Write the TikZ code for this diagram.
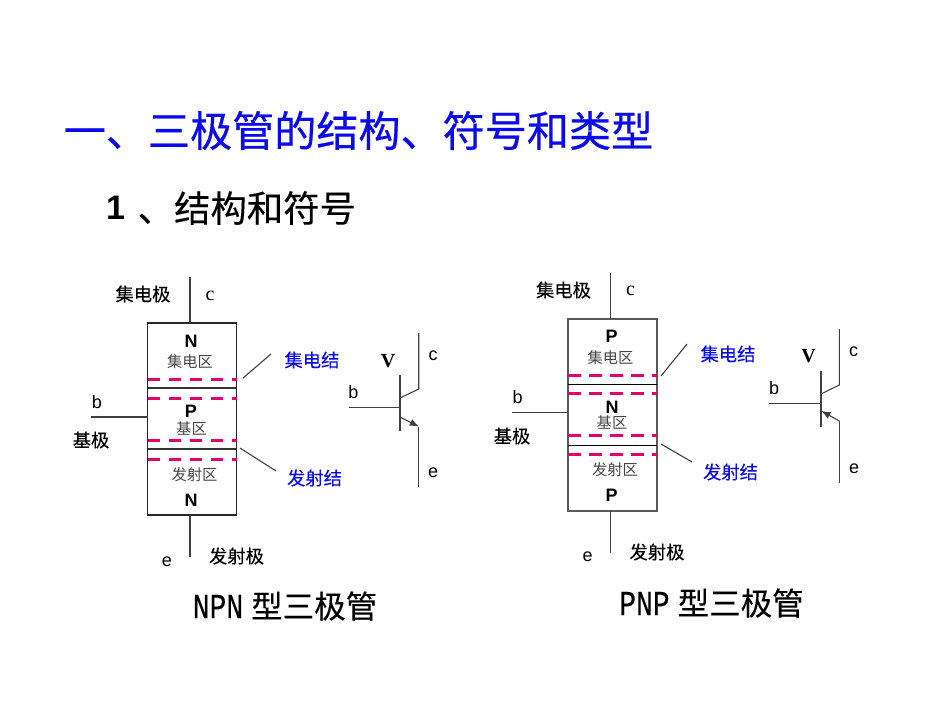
\documentclass[tikz,border=0pt]{standalone}
\usepackage{fontspec}
\setmainfont{Liberation Sans}
\newfontfamily\cjk{Noto Sans CJK SC}
\newfontfamily\cjkh[FakeBold=0.5]{Noto Sans CJK SC}
\newfontfamily\cjkm[FakeBold=0.25]{Noto Sans CJK SC}
\newfontfamily\tms{Liberation Serif}
\newfontfamily\narrowmono[FakeStretch=0.8,FakeBold=0.3]{Liberation Mono}
\usetikzlibrary{arrows.meta}
\definecolor{junc}{RGB}{228,0,110}
\definecolor{tblue}{RGB}{10,10,235}
\definecolor{lgrey}{RGB}{70,70,70}
\tikzset{
  lead/.style={draw=black!75,line width=1.1pt},
  boxlook/.style={draw=black!85,line width=1.1pt,minimum width=89pt,minimum height=192pt,inner sep=0pt,outer sep=0pt},
  junction/.style={draw=junc,line width=3pt,dash pattern=on 12.5pt off 8.5pt},
  inner/.style={draw=black!80,line width=1.1pt},
  lab/.style={inner sep=0pt,outer sep=0pt,font=\fontsize{18.3}{20}\cjkm,text=black},
  bluelab/.style={lab,text=tblue},
  region/.style={inner sep=0pt,outer sep=0pt,font=\fontsize{15.3}{18}\cjk,text=lgrey},
  typeL/.style={inner sep=0pt,outer sep=0pt,font=\fontsize{18}{20}\selectfont\bfseries},
  pin/.style={inner sep=0pt,outer sep=0pt,font=\fontsize{18}{20}\selectfont},
  vlab/.style={inner sep=0pt,outer sep=0pt,font=\fontsize{20}{22}\tms\bfseries},
  clab/.style={inner sep=0pt,outer sep=0pt,font=\fontsize{20}{22}\tms},
  caption/.style={inner sep=0pt,outer sep=0pt,font=\fontsize{31.5}{34}\cjkm},
  tip/.style={-{Latex[length=9pt,width=7.5pt]}}
}
\begin{document}
\begin{tikzpicture}[x=1pt,y=-1pt]
\useasboundingbox (0,0) rectangle (950,713);
\node[inner sep=0pt,font=\fontsize{42.1}{46}\cjkh,text=tblue] (title) at (358.5,130.5) {一、三极管的结构、符号和类型};
\node[inner sep=0pt,anchor=west,font=\fontsize{34}{38}\selectfont\bfseries] (one) at (106,208) {1};
\node[inner sep=0pt,anchor=west,font=\fontsize{36.4}{40}\cjkm] (sub) at (137.5,208) {、结构和符号};
%
% ---- NPN ----
\node[boxlook] (nb) at (192,419) {};
\coordinate (nct) at (190,277); \coordinate (ncb) at (190,323);
\coordinate (net) at (190,515); \coordinate (neb) at (190,557);
\coordinate (nbl) at (91,417);  \coordinate (nbr) at (147.5,417);
\draw[lead] (nct) -- (ncb); \draw[lead] (net) -- (neb); \draw[lead] (nbl) -- (nbr);
\foreach \y/\n in {379.5/a,398/b,440/c,459/d}{
  \coordinate (nl\n) at (147.5,\y); \coordinate (nr\n) at (236.5,\y);
  \draw[junction] (nl\n) -- (nr\n);}
\foreach \y/\n in {388/e,449/f}{
  \coordinate (nl\n) at (147.5,\y); \coordinate (nr\n) at (236.5,\y);
  \draw[inner] (nl\n) -- (nr\n);}
\coordinate (np1) at (243,378); \coordinate (np2) at (271,354);
\coordinate (np3) at (240,448); \coordinate (np4) at (276,471);
\draw[lead] (np1) -- (np2); \draw[lead] (np3) -- (np4);
\node[lab] (n1) at (143,294) {集电极};
\node[clab] (n2) at (210,295.5) {c};
\node[typeL] (n3) at (191,341) {N};
\node[region] (n4) at (190,362) {集电区};
\node[pin] (n5) at (97,402) {b};
\node[lab] (n6) at (91,440) {基极};
\node[typeL] (n7) at (191,411) {P};
\node[region] (n8) at (191.5,428) {基区};
\node[region] (n9) at (194.5,475) {发射区};
\node[typeL] (n10) at (191,500) {N};
\node[pin] (n11) at (167,562) {e};
\node[lab] (n12) at (236.5,556) {发射极};
\node[bluelab] (n13) at (312,360) {集电结};
\node[bluelab] (n14) at (314.5,478) {发射结};
\node[caption] (n15) at (285,606) {\narrowmono\fontsize{35}{36}\selectfont NPN\hspace{8pt}\cjkm\fontsize{31.5}{34}\selectfont 型三极管};
% symbol
\coordinate (nsc1) at (418.7,333); \coordinate (nsc2) at (418.7,389); \coordinate (nsc3) at (400,398);
\coordinate (nsb1) at (400,375);   \coordinate (nsb2) at (400,431);
\coordinate (nsbl) at (349,407.5); \coordinate (nsbr) at (400,407.5);
\coordinate (nse1) at (400,417);   \coordinate (nse2) at (418.7,426.5); \coordinate (nse3) at (418.7,487);
\draw[lead] (nsc1) -- (nsc2) -- (nsc3);
\draw[lead] (nsb1) -- (nsb2);
\draw[lead] (nsbl) -- (nsbr);
\draw[lead,tip] (nse1) -- (nse2);
\draw[lead] (nse2) -- (nse3);
\node[vlab] (n16) at (388,361) {V};
\node[pin] (n17) at (433,356) {c};
\node[pin] (n18) at (353.5,392.5) {b};
\node[pin] (n19) at (433,473) {e};
%
% ---- PNP ----
\node[boxlook,draw=black!65] (pb) at (612.5,415) {};
\coordinate (pct) at (610.5,273); \coordinate (pcb) at (610.5,319);
\coordinate (pet) at (610.5,511); \coordinate (peb) at (610.5,553);
\coordinate (pbl) at (512,412.7); \coordinate (pbr) at (568,412.7);
\draw[lead] (pct) -- (pcb); \draw[lead] (pet) -- (peb); \draw[lead] (pbl) -- (pbr);
\foreach \y/\n in {375.3/a,393.8/b,435.8/c,454.8/d}{
  \coordinate (pl\n) at (568,\y); \coordinate (pr\n) at (657,\y);
  \draw[junction] (pl\n) -- (pr\n);}
\foreach \y/\n in {384.3/e,445.3/f}{
  \coordinate (pl\n) at (568,\y); \coordinate (pr\n) at (657,\y);
  \draw[inner,draw=black] (pl\n) -- (pr\n);}
\coordinate (pp1) at (661,376); \coordinate (pp2) at (687,344);
\coordinate (pp3) at (661,444); \coordinate (pp4) at (692,462);
\draw[lead] (pp1) -- (pp2); \draw[lead] (pp3) -- (pp4);
\node[lab] (p1) at (563.5,290) {集电极};
\node[clab] (p2) at (630.5,291) {c};
\node[typeL] (p3) at (611.5,336) {P};
\node[region] (p4) at (610.5,358) {集电区};
\node[pin] (p5) at (517.5,397) {b};
\node[lab] (p6) at (512,436) {基极};
\node[typeL] (p7) at (612,407) {N};
\node[region] (p8) at (612,422) {基区};
\node[region] (p9) at (615,470) {发射区};
\node[typeL] (p10) at (611.5,495) {P};
\node[pin] (p11) at (587.5,557) {e};
\node[lab] (p12) at (657,552) {发射极};
\node[bluelab] (p13) at (728,354) {集电结};
\node[bluelab] (p14) at (730.5,472) {发射结};
\node[caption] (p15) at (711.5,603) {\narrowmono\fontsize{35}{36}\selectfont PNP\hspace{8pt}\cjkm\fontsize{31.5}{34}\selectfont 型三极管};
% symbol
\coordinate (psc1) at (839.3,329); \coordinate (psc2) at (839.3,385); \coordinate (psc3) at (821,394);
\coordinate (psb1) at (821,371);   \coordinate (psb2) at (821,427);
\coordinate (psbl) at (769,403.3); \coordinate (psbr) at (821,403.3);
\coordinate (pse1) at (839.3,421); \coordinate (pse2) at (821.5,411); \coordinate (pse3) at (839.3,483);
\draw[lead] (psc1) -- (psc2) -- (psc3);
\draw[lead] (psb1) -- (psb2);
\draw[lead] (psbl) -- (psbr);
\draw[lead,tip] (pse1) -- (pse2);
\draw[lead] (pse1) -- (pse3);
\node[vlab] (p16) at (808.5,356) {V};
\node[pin] (p17) at (853.5,351.5) {c};
\node[pin] (p18) at (774,388.5) {b};
\node[pin] (p19) at (854,468.5) {e};
\end{tikzpicture}
\end{document}
